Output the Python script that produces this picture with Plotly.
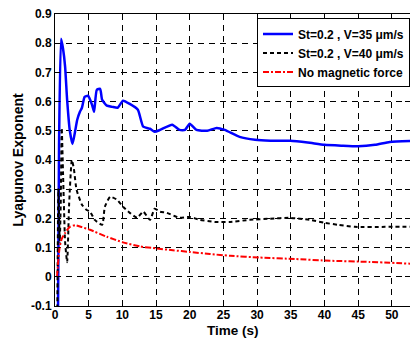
import plotly.graph_objects as go

# Blue: St=0.2, V=35 um/s
t_blue = [0.4, 0.6, 0.9, 1.2, 1.5, 1.8, 2.2, 2.6, 3.0, 3.3, 3.7, 4.0, 4.4, 4.9, 5.5, 5.8, 6.2, 6.7, 7.0, 7.7,
          8.5, 9.3, 10.1, 11.1, 12.3, 13.1, 14.1, 14.8, 15.6, 17.4, 18.5, 19.3, 20.0, 21.0, 22.6, 24.0,
          25.2, 27.4, 29.7, 32.0, 34.9, 37.5, 40.0, 42.5, 45.0, 47.5, 49.7, 52.7]
v_blue = [-0.3, 0.45, 0.815, 0.78, 0.72, 0.606, 0.50, 0.455, 0.50, 0.538, 0.565, 0.579, 0.616, 0.62, 0.589,
          0.565, 0.64, 0.644, 0.606, 0.586, 0.582, 0.579, 0.603, 0.592, 0.572, 0.514, 0.507, 0.497,
          0.503, 0.521, 0.503, 0.503, 0.524, 0.503, 0.50, 0.51, 0.503, 0.479, 0.469, 0.466, 0.466,
          0.46, 0.452, 0.449, 0.447, 0.452, 0.462, 0.465]

# Black: St=0.2, V=40 um/s
t_black = [0.3, 0.5, 0.7, 0.85, 1.0, 1.2, 1.5, 1.8, 2.1, 2.5, 2.8, 3.2, 4.0, 4.7, 5.2, 5.9, 7.0, 7.4, 8.2,
           9.2, 10.1, 11.1, 12.2, 13.1, 14.1, 14.8, 15.6, 16.6, 18.5, 20.0, 21.5, 23.7, 26.0, 28.9,
           31.9, 34.9, 37.8, 40.0, 42.0, 44.5, 49.0, 52.7]
v_black = [-0.3, 0.30, 0.12, 0.25, 0.51, 0.35, 0.12, 0.05, 0.25, 0.40, 0.37, 0.298, 0.247, 0.229, 0.223,
           0.195, 0.178, 0.24, 0.274, 0.264, 0.24, 0.219, 0.202, 0.223, 0.195, 0.233, 0.223, 0.219,
           0.202, 0.205, 0.195, 0.188, 0.188, 0.195, 0.199, 0.202, 0.195, 0.185, 0.178, 0.171,
           0.171, 0.171]

# Red: No magnetic force
t_red = [0.3, 0.5, 0.7, 1.0, 1.5, 2.2, 3.0, 4.0, 5.2, 7.7, 10.1, 12.6, 15.1, 17.5, 20.0, 23.0, 26.0,
         30.4, 35.6, 40.8, 46.7, 52.7]
v_red = [0.0, 0.06, 0.103, 0.13, 0.15, 0.171, 0.177, 0.17, 0.161, 0.137, 0.118, 0.104, 0.097, 0.091,
         0.085, 0.078, 0.072, 0.066, 0.061, 0.055, 0.051, 0.045]

x_ticks = [0, 5, 10, 15, 20, 25, 30, 35, 40, 45, 50]
y_ticks = [-0.1, 0, 0.1, 0.2, 0.3, 0.4, 0.5, 0.6, 0.7, 0.8, 0.9]
y_tick_labels = ["-0.1", "0", "0.1", "0.2", "0.3", "0.4", "0.5", "0.6", "0.7", "0.8", "0.9"]
x_title = "Time (s)"
y_title = "Lyapunov Exponent"

FONT = "Arial, Liberation Sans, sans-serif"

fig = go.Figure()
fig.add_trace(go.Scatter(x=t_blue, y=v_blue, mode="lines", name="St=0.2 , V=35 μm/s",
                         line=dict(color="#0000ff", width=2.5, shape="spline", smoothing=0.5)))
fig.add_trace(go.Scatter(x=t_black, y=v_black, mode="lines", name="St=0.2 , V=40 μm/s",
                         line=dict(color="black", width=2, dash="4px,3px", shape="spline", smoothing=0.5)))
fig.add_trace(go.Scatter(x=t_red, y=v_red, mode="lines", name="No magnetic force",
                         line=dict(color="#ff0000", width=2, dash="6px,2px,2px,2px", shape="spline", smoothing=0.5)))

axis_common = dict(
    showline=True, linecolor="black", linewidth=1, mirror="ticks",
    ticks="inside", ticklen=5, tickcolor="black",
    showgrid=True, gridcolor="black", gridwidth=1, griddash="6px,5px",
    zeroline=False,
    tickfont=dict(family=FONT, size=12, color="black", weight="bold"),
)

fig.update_xaxes(range=[0, 52.7], tickvals=x_ticks, automargin=False, ticklabelstandoff=-2,
                 **axis_common)
fig.update_yaxes(range=[-0.1, 0.9], tickvals=y_ticks, ticktext=y_tick_labels,
                 title=dict(text=y_title, font=dict(family=FONT, size=14, color="black", weight="bold"),
                            standoff=4),
                 automargin=False,
                 **axis_common)

fig.add_annotation(text=x_title, xref="paper", yref="paper", x=0.5, y=-0.083,
                   xanchor="center", yanchor="middle", showarrow=False,
                   font=dict(family=FONT, size=13.5, color="black", weight="bold"))

fig.update_layout(
    width=410, height=338,
    margin=dict(l=55, r=0, t=14, b=32),
    plot_bgcolor="white", paper_bgcolor="white",
    showlegend=True,
    legend=dict(x=1, y=0.985, xanchor="right", yanchor="top",
                bgcolor="white", bordercolor="black", borderwidth=1,
                font=dict(family=FONT, size=12, color="black", weight="bold"),
                itemwidth=30, tracegroupgap=0,
                traceorder="normal"),
)

fig.write_html("out.html", config={"displayModeBar": False},
               post_script="document.body.style.margin='0';document.body.style.overflow='hidden';")
